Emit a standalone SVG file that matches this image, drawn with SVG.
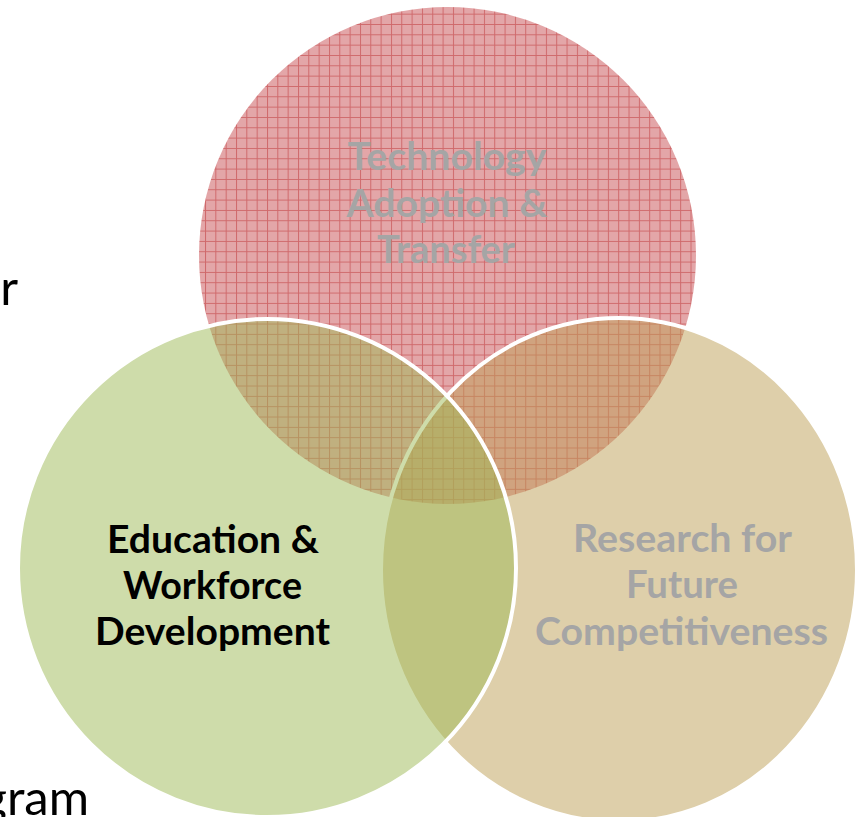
<svg xmlns="http://www.w3.org/2000/svg" width="864" height="817" viewBox="0 0 864 817">
  <defs>
    <pattern id="grid" patternUnits="userSpaceOnUse" x="339.3" y="127.3" width="10.33" height="10.33">
      <rect width="10.33" height="10.33" fill="#E3A6A8"/>
      <path d="M0 0.5H10.33M0.5 0V10.33" stroke="#CC5E61" stroke-width="1" stroke-opacity="0.85" fill="none"/>
    </pattern>
    <style>
      .bg { font-family: Lato, "Liberation Sans", sans-serif; font-size: 49px; fill: #000000; }
      .lbl { font-family: Lato, "Liberation Sans", sans-serif; font-size: 39px; font-weight: bold; text-anchor: middle; }
      .grey { fill: #A5A5A5; }
      .dark { fill: #000000; }
      .ring { stroke: #FFFFFF; stroke-width: 4; }
    </style>
  </defs>
  <rect width="864" height="817" fill="#FFFFFF"/>
  <!-- partial slide text behind diagram -->
  <text class="bg" x="18" y="305" text-anchor="end">r</text>
  <text class="bg" x="89" y="815" text-anchor="end">gram</text>

  <g id="tech">
    <circle cx="447.5" cy="255.5" r="248.5" fill="url(#grid)"/>
  </g>
  <g id="research">
    <ellipse class="ring" cx="619" cy="570" rx="238" ry="252" fill="#BD9F55" fill-opacity="0.5"/>
  </g>
  <g id="education">
    <circle class="ring" cx="267" cy="568" r="249" fill="#9DB955" fill-opacity="0.5"/>
  </g>
  <g id="connectors"/>

  <g id="labels">
    <text class="lbl grey" x="447" y="170" textLength="199" lengthAdjust="spacingAndGlyphs">Technology</text>
    <text class="lbl grey" x="447" y="216.7" textLength="201" lengthAdjust="spacingAndGlyphs">Adoption &amp;</text>
    <text class="lbl grey" x="446" y="263.3" textLength="138" lengthAdjust="spacingAndGlyphs">Transfer</text>

    <text class="lbl dark" x="213" y="552.7" textLength="212" lengthAdjust="spacingAndGlyphs">Education &amp;</text>
    <text class="lbl dark" x="212.5" y="598.5" textLength="179" lengthAdjust="spacingAndGlyphs">Workforce</text>
    <text class="lbl dark" x="212.5" y="645" textLength="235" lengthAdjust="spacingAndGlyphs">Development</text>

    <text class="lbl grey" x="682.5" y="551.7" textLength="219" lengthAdjust="spacingAndGlyphs">Research for</text>
    <text class="lbl grey" x="682" y="598.3" textLength="112" lengthAdjust="spacingAndGlyphs">Future</text>
    <text class="lbl grey" x="681.5" y="645" textLength="293" lengthAdjust="spacingAndGlyphs">Competitiveness</text>
  </g>
</svg>
